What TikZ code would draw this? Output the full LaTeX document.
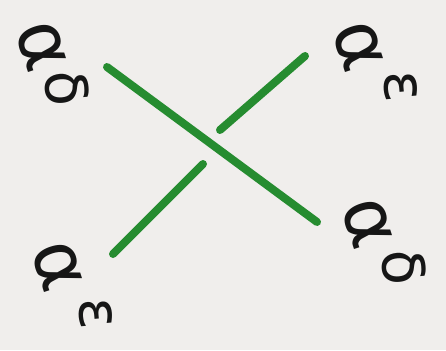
\documentclass[tikz,border=0pt]{standalone}
\usepackage{fontspec}
\newfontfamily\hand{DejaVu Sans}
\definecolor{paper}{RGB}{240,238,236}
\definecolor{strand}{RGB}{38,140,48}
\definecolor{ink}{RGB}{22,22,22}
\begin{document}
\begin{tikzpicture}[x=1pt,y=-1pt,
  strandline/.style={line width=8pt,line cap=round,draw=strand},
  bigl/.style={inner sep=0pt,rotate=-72,text=ink,font=\hand\fontsize{74}{74}\selectfont},
  subl/.style={inner sep=0pt,rotate=-85,text=ink,font=\hand\fontsize{58}{58}\selectfont}]
\fill[paper] (0,0) rectangle (446,350);
\useasboundingbox (0,0) rectangle (446,350);
% strands
\coordinate (a1) at (107,67);
\coordinate (a2) at (317,222);
\coordinate (b1) at (220,130);
\coordinate (b2) at (305,56);
\coordinate (c1) at (203,164);
\coordinate (c2) at (113,254);
\draw[strandline] (a1) -- (a2);
\draw[strandline] (b1) -- (b2);
\draw[strandline] (c1) -- (c2);
% labels
\node[bigl] (tla) at (41,46) {α};
\node[subl] (tls) at (67,88) {δ};
\node[bigl] (tra) at (358,46) {α};
\node[subl] (trs) at (401,87) {ε};
\node[bigl] (bla) at (57,266) {α};
\node[subl] (bls) at (96,314) {ε};
\node[bigl] (bra) at (367,223) {α};
\node[subl] (brs) at (404,267) {δ};
\end{tikzpicture}
\end{document}
